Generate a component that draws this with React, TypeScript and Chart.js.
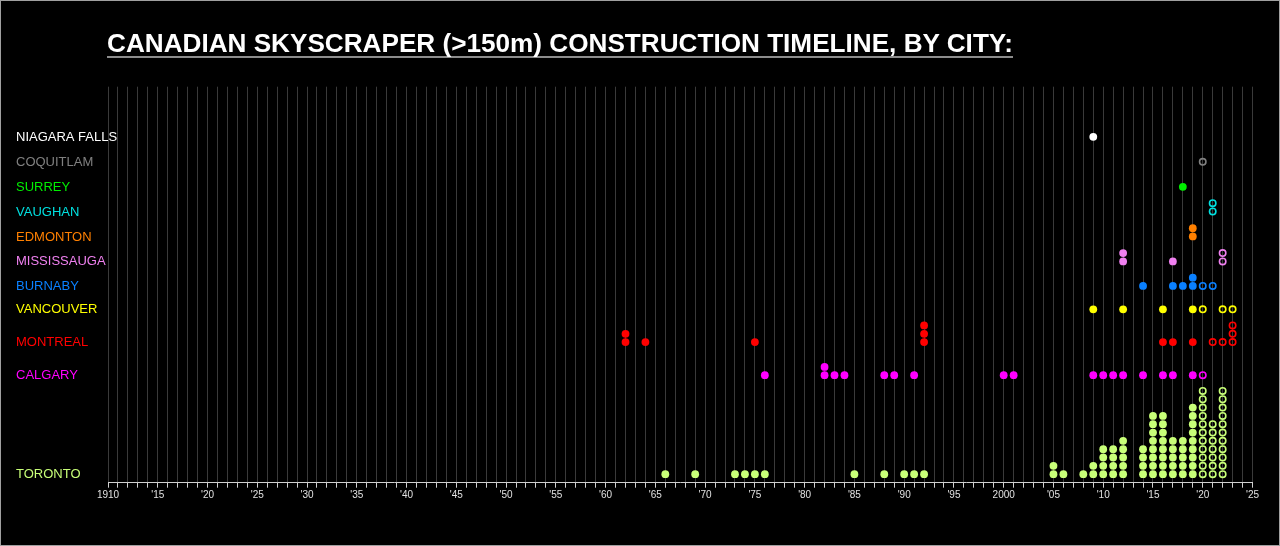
import React, { useEffect, useRef } from "react";
import { Chart, registerables } from "chart.js";

Chart.register(...registerables);

const TITLE = "CANADIAN SKYSCRAPER (>150m) CONSTRUCTION TIMELINE, BY CITY:";

const cities = ["TORONTO", "CALGARY", "MONTREAL", "VANCOUVER", "BURNABY", "MISSISSAUGA", "EDMONTON", "VAUGHAN", "SURREY", "COQUITLAM", "NIAGARA FALLS"];
const cityColors = ["#c8ff78", "#ff00ff", "#ff0000", "#ffff00", "#0a80ff", "#f080f0", "#ff8000", "#00e0e0", "#00ee00", "#808080", "#ffffff"];
// vertical slot of each city row (in dot-stack units above the axis)
const rowBase = [1.03, 12.92, 16.9, 20.84, 23.65, 26.6, 29.6, 32.6, 35.57, 38.57, 41.57];

// completed towers: year -> number of towers
const torontoYears = [1966, 1969, 1973, 1974, 1975, 1976, 1985, 1988, 1990, 1991, 1992, 2005, 2006, 2008, 2009, 2010, 2011, 2012, 2014, 2015, 2016, 2017, 2018, 2019];
const torontoCounts = [1, 1, 1, 1, 1, 1, 1, 1, 1, 1, 1, 2, 1, 1, 2, 4, 4, 5, 4, 8, 8, 5, 5, 9];
const torontoPlanYears = [2020, 2021, 2022];
const torontoPlanCounts = [11, 7, 11];

const calgaryYears = [1976, 1982, 1983, 1984, 1988, 1989, 1991, 2000, 2001, 2009, 2010, 2011, 2012, 2014, 2016, 2017, 2019];
const calgaryCounts = [1, 2, 1, 1, 1, 1, 1, 1, 1, 1, 1, 1, 1, 1, 1, 1, 1];
const calgaryPlanYears = [2020];
const calgaryPlanCounts = [1];

const montrealYears = [1962, 1964, 1975, 1992, 2016, 2017, 2019];
const montrealCounts = [2, 1, 1, 3, 1, 1, 1];
const montrealPlanYears = [2021, 2022, 2023];
const montrealPlanCounts = [1, 1, 3];

const vancouverYears = [2009, 2012, 2016, 2019];
const vancouverCounts = [1, 1, 1, 1];
const vancouverPlanYears = [2020, 2022, 2023];
const vancouverPlanCounts = [1, 1, 1];

const burnabyYears = [2014, 2017, 2018, 2019];
const burnabyCounts = [1, 1, 1, 2];
const burnabyPlanYears = [2020, 2021];
const burnabyPlanCounts = [1, 1];

const mississaugaYears = [2012, 2017];
const mississaugaCounts = [2, 1];
const mississaugaPlanYears = [2022];
const mississaugaPlanCounts = [2];

const edmontonYears = [2019];
const edmontonCounts = [2];
const edmontonPlanYears: number[] = [];
const edmontonPlanCounts: number[] = [];

const vaughanYears: number[] = [];
const vaughanCounts: number[] = [];
const vaughanPlanYears = [2021];
const vaughanPlanCounts = [2];

const surreyYears = [2018];
const surreyCounts = [1];
const surreyPlanYears: number[] = [];
const surreyPlanCounts: number[] = [];

const coquitlamYears: number[] = [];
const coquitlamCounts: number[] = [];
const coquitlamPlanYears = [2020];
const coquitlamPlanCounts = [1];

const niagaraYears = [2009];
const niagaraCounts = [1];
const niagaraPlanYears: number[] = [];
const niagaraPlanCounts: number[] = [];

const built = [
  [torontoYears, torontoCounts], [calgaryYears, calgaryCounts], [montrealYears, montrealCounts],
  [vancouverYears, vancouverCounts], [burnabyYears, burnabyCounts], [mississaugaYears, mississaugaCounts],
  [edmontonYears, edmontonCounts], [vaughanYears, vaughanCounts], [surreyYears, surreyCounts],
  [coquitlamYears, coquitlamCounts], [niagaraYears, niagaraCounts],
];
const planned = [
  [torontoPlanYears, torontoPlanCounts], [calgaryPlanYears, calgaryPlanCounts], [montrealPlanYears, montrealPlanCounts],
  [vancouverPlanYears, vancouverPlanCounts], [burnabyPlanYears, burnabyPlanCounts], [mississaugaPlanYears, mississaugaPlanCounts],
  [edmontonPlanYears, edmontonPlanCounts], [vaughanPlanYears, vaughanPlanCounts], [surreyPlanYears, surreyPlanCounts],
  [coquitlamPlanYears, coquitlamPlanCounts], [niagaraPlanYears, niagaraPlanCounts],
];

const X_MIN = 1910;
const X_MAX = 2025;
const Y_MAX = 47.6;

const FONT = '"Liberation Sans", Arial, sans-serif';

function stack(base: number, years: number[], counts: number[]) {
  const pts: { x: number; y: number }[] = [];
  years.forEach((yr, i) => {
    for (let k = 0; k < counts[i]; k++) pts.push({ x: yr, y: base + k });
  });
  return pts;
}

function yearLabel(v: number) {
  if (v % 5 !== 0) return "";
  if (v === 1910 || v === 2000) return String(v);
  return "'" + String(v % 100).padStart(2, "0");
}

const cityLabels = {
  id: "cityLabels",
  afterDraw(chart: any) {
    const ctx = chart.ctx;
    const y = chart.scales.y;
    ctx.save();
    ctx.font = `13px ${FONT}`;
    ctx.textAlign = "left";
    ctx.textBaseline = "middle";
    cities.forEach((c, i) => {
      ctx.fillStyle = cityColors[i];
      ctx.fillText(c, 16, y.getPixelForValue(rowBase[i]) + 0.5);
    });
    ctx.restore();
  },
};

export default function App() {
  const ref = useRef<HTMLCanvasElement | null>(null);

  useEffect(() => {
    if (!ref.current) return;
    const datasets: any[] = [];
    cities.forEach((c, i) => {
      const [by, bc] = built[i] as [number[], number[]];
      const [py, pc] = planned[i] as [number[], number[]];
      datasets.push({
        label: c,
        data: stack(rowBase[i], by, bc),
        pointRadius: 3.9,
        pointBackgroundColor: cityColors[i],
        pointBorderWidth: 0,
        pointBorderColor: cityColors[i],
        showLine: false,
      });
      datasets.push({
        label: c + " (planned)",
        data: stack(rowBase[i], py, pc),
        pointRadius: 3.2,
        pointBackgroundColor: "rgba(0,0,0,0)",
        pointBorderWidth: 1.6,
        pointBorderColor: cityColors[i],
        showLine: false,
      });
    });

    const chart = new Chart(ref.current, {
      type: "scatter",
      data: { datasets },
      plugins: [cityLabels],
      options: {
        animation: false,
        responsive: false,
        devicePixelRatio: 1,
        events: [],
        layout: { padding: { left: 108, top: 86.7, right: 27.5, bottom: 0 } },
        plugins: { legend: { display: false }, tooltip: { enabled: false }, title: { display: false } },
        scales: {
          x: {
            type: "linear",
            position: "bottom",
            min: X_MIN,
            max: X_MAX,
            afterFit: (s: any) => { s.height = 546 - 482.7; },
            grid: { color: "#3a3a3a", lineWidth: 1, tickColor: "#d0d0d0", tickLength: 5, drawTicks: true },
            border: { display: true, color: "#d0d0d0", width: 1 },
            ticks: {
              stepSize: 1,
              autoSkip: false,
              maxTicksLimit: 500,
              maxRotation: 0,
              minRotation: 0,
              padding: 2,
              color: "#e0e0e0",
              font: { family: FONT, size: 10 },
              callback: (v: any) => yearLabel(Number(v)),
            },
          },
          y: {
            type: "linear",
            display: false,
            min: 0,
            max: Y_MAX,
          },
        },
      } as any,
    });
    return () => chart.destroy();
  }, []);

  return (
    <div style={{ position: "absolute", left: 0, top: 0, width: 1280, height: 546, background: "#000", overflow: "hidden" }}>
      <canvas ref={ref} width={1280} height={546} style={{ position: "absolute", left: 0, top: 0, width: 1280, height: 546 }} />
      <div
        style={{
          position: "absolute",
          left: 107,
          top: 30,
          font: `bold 26.15px ${FONT}`,
          lineHeight: "26px",
          color: "#ffffff",
          whiteSpace: "nowrap",
          borderBottom: "2px solid #8c8c8c",
        }}
      >
        {TITLE}
      </div>
      <div style={{ position: "absolute", left: 0, top: 0, width: 1280, height: 546, boxSizing: "border-box", border: "1px solid #a0a0a0", pointerEvents: "none" }} />
    </div>
  );
}
